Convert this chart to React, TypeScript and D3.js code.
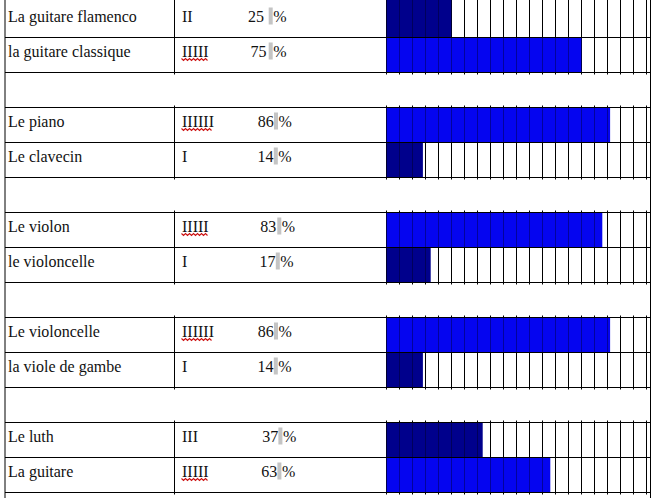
import React from "react";
import * as d3 from "d3";

// ---- data ----
const instruments = [
  "La guitare flamenco",
  "la guitare classique",
  "Le piano",
  "Le clavecin",
  "Le violon",
  "le violoncelle",
  "Le violoncelle",
  "la viole de gambe",
  "Le luth",
  "La guitare",
];
const tallies = ["II", "IIIII", "IIIIII", "I", "IIIII", "I", "IIIIII", "I", "III", "IIIII"];
const percents = [25, 75, 86, 14, 83, 17, 86, 14, 37, 63];

// ---- layout (text positions in the document) ----
const numX = [248, 250.5, 257.8, 257.5, 260.2, 259.5, 257.8, 257.5, 262.2, 261.2];
const grayX = [268.7, 268.7, 274, 273.8, 277.3, 275.8, 274, 273.8, 278.4, 277.4];

const W = 654;
const H = 498;
const ROW_H = 35;
const TOP = 2.5;
const LEFT = 5;
const RIGHT = 650.5;
const COL2 = 174.5;

const NAVY = "#00008c";
const BLUE = "#0505f0";

export default function App() {
  const x = d3.scaleLinear().domain([0, 100]).range([386.5, 646.5]);
  const y = d3.scaleLinear().domain([0, 1]).range([TOP, TOP + ROW_H]);
  const rowIndex = (j: number) => Math.floor(j / 2) * 3 + (j % 2);
  const gridTicks = x.ticks(20);
  const nPairs = Math.ceil(percents.length / 2);
  const nRows = 14;

  const squiggle = (x0: number, x1: number, yy: number) => {
    const pts: [number, number][] = [];
    let k = 0;
    for (let xx = x0; xx <= x1 + 0.01; xx += 2) {
      pts.push([xx, yy + (k % 2 === 0 ? 0 : 2)]);
      k++;
    }
    return d3.line()(pts) || "";
  };

  return (
    <div style={{ position: "fixed", left: 0, top: 0 }}>
      <svg width={W} height={H} style={{ display: "block", background: "#fff" }}>
        {/* horizontal table lines */}
        {d3.range(1, nRows + 1).map((i) => (
          <line key={"h" + i} x1={LEFT} x2={RIGHT} y1={y(i)} y2={y(i)} stroke="#000" strokeWidth={1} />
        ))}
        {/* outer borders */}
        <line x1={LEFT} x2={LEFT} y1={0} y2={H} stroke="#000" strokeWidth={1} />
        <line x1={RIGHT} x2={RIGHT} y1={0} y2={H} stroke="#000" strokeWidth={1} />
        {/* pair blocks: column separator + grid */}
        {d3.range(nPairs + 1).map((p) => {
          const t = p === 0 ? -5 : y(p * 3) - 2;
          const b = y(p * 3 + 2) + 2;
          return (
            <g key={"p" + p}>
              <line x1={COL2} x2={COL2} y1={t} y2={b} stroke="#000" strokeWidth={1} />
              {gridTicks.map((v) => (
                <line key={v} x1={x(v)} x2={x(v)} y1={t} y2={b} stroke="#000" strokeWidth={1} />
              ))}
            </g>
          );
        })}
        {/* bars */}
        {percents.map((v, j) => {
          const r = rowIndex(j);
          const top = j === 0 ? 0 : y(r) + 0.5;
          const bot = y(r + 1) - 0.5;
          return (
            <rect
              key={"b" + j}
              x={x(0)}
              y={top}
              width={x(v) - x(0)}
              height={bot - top}
              fill={v < 50 ? NAVY : BLUE}
            />
          );
        })}
        {/* grid over bars (faint) */}
        {percents.map((v, j) => {
          const r = rowIndex(j);
          const top = j === 0 ? 0 : y(r);
          const bot = y(r + 1);
          return (
            <g key={"g" + j}>
              {gridTicks
                .filter((t) => t <= v)
                .map((t) => (
                  <line key={t} x1={x(t)} x2={x(t)} y1={top} y2={bot} stroke="#000" strokeOpacity={0.35} strokeWidth={1} />
                ))}
            </g>
          );
        })}
        {/* texts */}
        {percents.map((v, j) => {
          const r = rowIndex(j);
          const base = y(r) + 19;
          const tally = tallies[j];
          const tallyW = tally.length * 5.33;
          return (
            <g key={"t" + j} fontFamily="'Liberation Serif', 'Times New Roman', serif" fontSize={16} fill="#111">
              <text x={8} y={base}>{instruments[j]}</text>
              <text x={182} y={base}>{tally}</text>
              {tally.length >= 4 && (
                <path d={squiggle(181.5, 181.5 + tallyW, base + 2)} fill="none" stroke="#cc1010" strokeWidth={1.1} />
              )}
              <rect x={grayX[j]} y={base - 14} width={4} height={17} fill="#c4c4c4" />
              <text x={numX[j]} y={base}>{v}</text>
              <text x={grayX[j] + 4.5} y={base}>%</text>
            </g>
          );
        })}
      </svg>
    </div>
  );
}
